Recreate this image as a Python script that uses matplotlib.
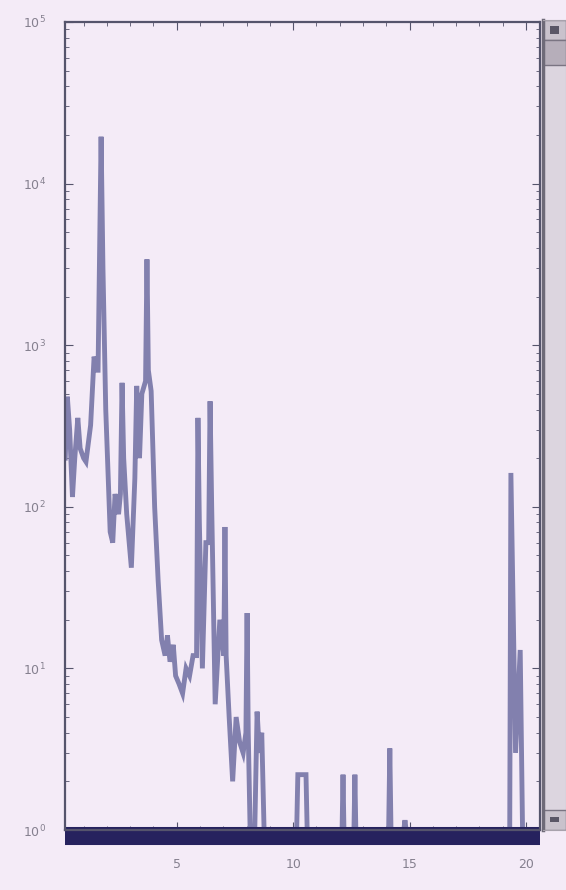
import matplotlib
matplotlib.use("Agg")
import matplotlib.pyplot as plt
from matplotlib.patches import Rectangle

# spectrum (x position, magnitude)
freq = [0.21, 0.30, 0.40, 0.52, 0.62, 0.75, 0.85, 1.00, 1.10, 1.30, 1.45, 1.55,
        1.62, 1.75, 1.83, 1.95, 2.14, 2.25, 2.35, 2.50, 2.58, 2.65, 2.72, 2.85,
        3.05, 3.20, 3.28, 3.40, 3.50, 3.66, 3.72, 3.78, 3.90, 4.05, 4.20, 4.35,
        4.50, 4.60, 4.71, 4.85, 4.95, 5.10, 5.25, 5.40, 5.55, 5.70, 5.85, 5.91,
        5.97, 6.10, 6.25, 6.37, 6.43, 6.50, 6.65, 6.85, 7.02, 7.07, 7.12, 7.25,
        7.40, 7.55, 7.70, 7.85, 7.97, 8.02, 8.07, 8.15, 8.35, 8.45, 8.55, 8.65,
        8.75,
        10.15, 10.20, 10.55, 10.60, 12.10, 12.14, 12.18, 12.61, 12.65, 12.69,
        14.10, 14.15, 14.20, 14.75, 14.80, 14.85,
        19.30, 19.35, 19.55, 19.75, 19.85]
mag = [200, 480, 300, 115, 200, 355, 230, 200, 190, 320, 850, 700,
       700, 19500, 3000, 400, 70, 60, 120, 90, 120, 585, 200, 90,
       42, 150, 560, 200, 500, 600, 3400, 700, 520, 100, 35, 15,
       12, 16, 11, 14, 9, 8, 7, 10, 9, 12, 12, 355,
       80, 10, 60, 60, 450, 100, 6, 20, 12, 75, 12, 5,
       2, 5, 3.5, 3, 4, 22, 4, 1, 1, 5.4, 3, 4,
       1,
       1, 2.2, 2.2, 1, 1, 2.2, 1, 1, 2.2, 1,
       1, 3.2, 1, 1, 1.15, 1,
       1, 162, 3, 13, 1]
floor_level = 0.92

xticks = [5, 10, 15, 20]

bg = "#f4ebf7"
fig = plt.figure(figsize=(5.66, 8.90), dpi=100, facecolor=bg)
ax = fig.add_axes([65 / 566, 60 / 890, 475 / 566, 808 / 890], facecolor=bg)

ax.semilogy(freq, mag, color="#8280ae", lw=3.5, solid_joinstyle="miter")
ax.axhline(floor_level, color="#26225e", lw=13, clip_on=False, solid_capstyle="butt")

ax.set_xlim(0.2, 20.6)
ax.set_ylim(1, 1e5)
ax.set_xticks(xticks)
ax.set_xticklabels([str(t) for t in xticks])
ax.xaxis.set_minor_locator(matplotlib.ticker.MultipleLocator(1))

for s in ax.spines.values():
    s.set_color("#55546c")
    s.set_linewidth(1.6)
ax.tick_params(which="both", direction="in", top=True, right=True,
               color="#55546c", labelcolor="#85808f", labelsize=9)
ax.tick_params(which="major", length=6)
ax.tick_params(which="minor", length=3)
ax.tick_params(axis="x", pad=20)
ax.tick_params(axis="y", pad=14)

# scrollbar on the right edge of the screenshot
sb = fig.add_axes([543 / 566, 60 / 890, 23 / 566, 810 / 890], facecolor="#dcd5df")
sb.set_xticks([])
sb.set_yticks([])
for s in sb.spines.values():
    s.set_color("#a8a2ac")
sb.spines["left"].set_color("#6e6a78")
sb.spines["left"].set_linewidth(2.5)
sb.add_patch(Rectangle((0, 0.975), 1, 0.025, transform=sb.transAxes,
                       facecolor="#c9c2cc", edgecolor="#7a7482"))
sb.add_patch(Rectangle((0.3, 0.983), 0.4, 0.01, transform=sb.transAxes,
                       facecolor="#5a5666", edgecolor="none"))
sb.add_patch(Rectangle((0, 0.945), 1, 0.03, transform=sb.transAxes,
                       facecolor="#b6aeba", edgecolor="#7a7482"))
sb.add_patch(Rectangle((0, 0), 1, 0.025, transform=sb.transAxes,
                       facecolor="#c9c2cc", edgecolor="#7a7482"))
sb.add_patch(Rectangle((0.3, 0.01), 0.4, 0.006, transform=sb.transAxes,
                       facecolor="#5a5666", edgecolor="none"))

fig.savefig("out.png", dpi=100, facecolor=bg)
